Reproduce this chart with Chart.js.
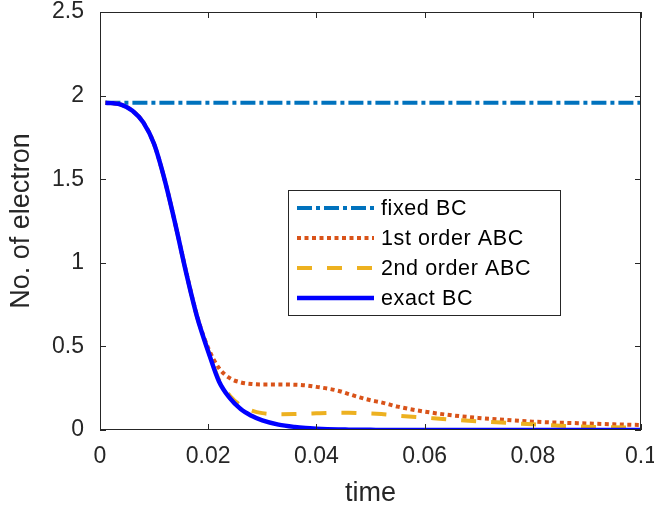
<!DOCTYPE html>
<html>
<head>
<meta charset="utf-8">
<script src="https://cdn.jsdelivr.net/npm/chart.js@4/dist/chart.umd.min.js"></script>
<style>
  html, body { margin: 0; padding: 0; background: #fff; }
  #wrap { width: 654px; height: 511px; position: relative; }
</style>
</head>
<body>
<div id="wrap"><canvas id="chart"></canvas></div>
<script>
// ── Data ─────────────────────────────────────────────────────────────────
var time = [0.001, 0.002, 0.004, 0.006, 0.008, 0.010, 0.012, 0.014, 0.016, 0.018,
            0.020, 0.022, 0.024, 0.026, 0.028, 0.030, 0.033, 0.036, 0.038, 0.040,
            0.042, 0.044, 0.046, 0.048, 0.050, 0.052, 0.055, 0.060, 0.065, 0.070,
            0.075, 0.080, 0.085, 0.090, 0.095, 0.100];

var fixedBC = [1.957, 1.957, 1.957, 1.957, 1.957, 1.957, 1.957, 1.957, 1.957, 1.957,
               1.957, 1.957, 1.957, 1.957, 1.957, 1.957, 1.957, 1.957, 1.957, 1.957,
               1.957, 1.957, 1.957, 1.957, 1.957, 1.957, 1.957, 1.957, 1.957, 1.957,
               1.957, 1.957, 1.957, 1.957, 1.957, 1.957];

var abc1 = [1.957, 1.955, 1.945, 1.91, 1.84, 1.71, 1.49, 1.22, 0.935, 0.675,
            0.49, 0.37, 0.31, 0.285, 0.275, 0.272, 0.272, 0.271, 0.267, 0.258,
            0.248, 0.235, 0.215, 0.195, 0.178, 0.165, 0.14, 0.11, 0.088, 0.072,
            0.06, 0.05, 0.044, 0.039, 0.034, 0.03];

var abc2 = [1.957, 1.955, 1.945, 1.91, 1.84, 1.71, 1.49, 1.22, 0.93, 0.67,
            0.475, 0.30, 0.205, 0.148, 0.117, 0.101, 0.094, 0.095, 0.098, 0.10,
            0.102, 0.103, 0.103, 0.101, 0.099, 0.095, 0.086, 0.074, 0.062, 0.052,
            0.043, 0.034, 0.026, 0.02, 0.016, 0.013];

var exactBC = [1.957, 1.955, 1.945, 1.91, 1.84, 1.71, 1.49, 1.22, 0.93, 0.67,
               0.47, 0.29, 0.19, 0.125, 0.085, 0.057, 0.032, 0.018, 0.012, 0.008,
               0.005, 0.003, 0.002, 0.001, 0.001, 0, 0, 0, 0, 0,
               0, 0, 0, 0, 0, 0];

var xTicks = [0, 0.02, 0.04, 0.06, 0.08, 0.1];
var yTicks = [0, 0.5, 1, 1.5, 2, 2.5];

var AXIS = '#262626';
var FONT = '"Liberation Sans", Arial, sans-serif';

function pts(ys) {
    return time.map(function (t, i) { return { x: t, y: ys[i] }; });
}

var series = [
    { label: 'fixed BC',       data: fixedBC, color: '#0072BD', dash: [15, 4, 4, 4], width: 4,   order: 3 },
    { label: '1st order ABC',  data: abc1,    color: '#D95319', dash: [4, 3.5],      width: 4,   order: 2 },
    { label: '2nd order ABC',  data: abc2,    color: '#EDB120', dash: [15, 15],      width: 4,   order: 1 },
    { label: 'exact BC',       data: exactBC, color: '#0000FF', dash: [],            width: 4.5, order: 0 }
];

// ── Frame, inward ticks, titles and legend ─────────────────────────────────
var framePlugin = {
    id: 'frame',
    beforeInit: function (chart) {
        chart.ctx.letterSpacing = '0.7px';
    },
    afterDatasetsDraw: function (chart) {
        var ctx = chart.ctx, a = chart.chartArea;
        var xs = chart.scales.x, ys = chart.scales.y;
        ctx.save();
        ctx.strokeStyle = AXIS;
        ctx.lineWidth = 1;
        ctx.setLineDash([]);
        ctx.strokeRect(a.left + 0.5, a.top + 0.5, a.right - a.left - 1, a.bottom - a.top - 1);
        ctx.beginPath();
        xTicks.forEach(function (v) {
            var px = Math.round(xs.getPixelForValue(v)) + 0.5;
            ctx.moveTo(px, a.bottom); ctx.lineTo(px, a.bottom - 6);
            ctx.moveTo(px, a.top);    ctx.lineTo(px, a.top + 6);
        });
        yTicks.forEach(function (v) {
            var py = Math.round(ys.getPixelForValue(v)) + 0.5;
            ctx.moveTo(a.left, py);  ctx.lineTo(a.left + 6, py);
            ctx.moveTo(a.right, py); ctx.lineTo(a.right - 6, py);
        });
        ctx.stroke();

        // axis titles
        ctx.fillStyle = AXIS;
        ctx.letterSpacing = '0px';
        ctx.font = '27px ' + FONT;
        ctx.textAlign = 'center';
        ctx.textBaseline = 'middle';
        ctx.fillText('time', (a.left + a.right) / 2, 494);
        ctx.save();
        ctx.translate(22, (a.top + a.bottom) / 2);
        ctx.rotate(-Math.PI / 2);
        ctx.fillText('No. of electron', 0, 0);
        ctx.restore();

        // legend box
        var bx = 288, by = 190, bw = 272, bh = 125;
        ctx.fillStyle = '#fff';
        ctx.fillRect(bx, by, bw, bh);
        ctx.strokeStyle = AXIS;
        ctx.strokeRect(bx + 0.5, by + 0.5, bw, bh);
        ctx.textAlign = 'left';
        ctx.font = '21.5px ' + FONT;
        ctx.letterSpacing = '0.6px';
        series.forEach(function (s, i) {
            var y = 208 + i * 30;
            ctx.strokeStyle = s.color;
            ctx.lineWidth = s.width;
            ctx.setLineDash(s.dash);
            ctx.beginPath();
            ctx.moveTo(297, y); ctx.lineTo(374, y);
            ctx.stroke();
            ctx.fillStyle = '#000';
            ctx.fillText(s.label, 381, y + 1);
        });
        ctx.restore();
    }
};

new Chart(document.getElementById('chart'), {
    type: 'line',
    data: {
        datasets: series.map(function (s) {
            return {
                label: s.label,
                data: pts(s.data),
                borderColor: s.color,
                borderWidth: s.width,
                borderDash: s.dash,
                borderCapStyle: 'butt',
                pointRadius: 0,
                fill: false,
                cubicInterpolationMode: 'monotone',
                order: s.order
            };
        })
    },
    options: {
        responsive: true,
        maintainAspectRatio: false,
        animation: false,
        layout: { padding: { top: 12, right: 13, left: 0, bottom: 0 } },
        plugins: { legend: { display: false }, tooltip: { enabled: false } },
        scales: {
            x: {
                type: 'linear',
                min: 0, max: 0.1,
                afterFit: function (s) {
                    s.height = 81;
                    s.paddingLeft = 0; s.paddingRight = 0;
                },
                afterBuildTicks: function (s) { s.ticks = xTicks.map(function (v) { return { value: v }; }); },
                grid: { display: false, drawTicks: false },
                border: { display: false },
                ticks: {
                    padding: 13,
                    color: AXIS,
                    font: { family: FONT, size: 23 },
                    maxRotation: 0,
                    callback: function (v) { return String(v); }
                }
            },
            y: {
                min: 0, max: 2.5,
                afterFit: function (s) {
                    s.width = 100;
                    s.paddingTop = 0; s.paddingBottom = 0;
                },
                afterBuildTicks: function (s) { s.ticks = yTicks.map(function (v) { return { value: v }; }); },
                grid: { display: false, drawTicks: false },
                border: { display: false },
                ticks: {
                    padding: 16,
                    color: AXIS,
                    font: { family: FONT, size: 23 },
                    callback: function (v) { return String(v); }
                }
            }
        }
    },
    plugins: [framePlugin]
});
</script>
</body>
</html>
